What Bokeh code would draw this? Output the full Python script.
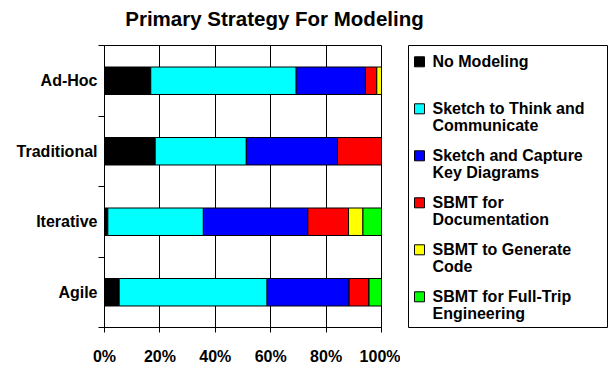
from bokeh.plotting import figure
from bokeh.models import (ColumnDataSource, Range1d, FixedTicker, PrintfTickFormatter, LinearAxis)
from bokeh.layouts import row, column
from bokeh.core.properties import value
from bokeh.embed import file_html
from bokeh.resources import INLINE

FONT = "Liberation Sans"

chart_title = "Primary Strategy For Modeling"
categories = ["Ad-Hoc", "Traditional", "Iterative", "Agile"]
no_modeling = [16.7, 18.3, 1.2, 5.3]
sketch_think = [52.5, 32.9, 34.5, 53.4]
sketch_capture = [25.0, 32.9, 37.7, 29.6]
sbmt_doc = [4.1, 15.9, 14.7, 7.2]
sbmt_gen = [1.7, 0.0, 5.2, 0.0]
sbmt_full = [0.0, 0.0, 6.7, 4.5]

series_keys = ["no_modeling", "sketch_think", "sketch_capture", "sbmt_doc", "sbmt_gen", "sbmt_full"]
series_values = [no_modeling, sketch_think, sketch_capture, sbmt_doc, sbmt_gen, sbmt_full]
legend_lines1 = ["No Modeling", "Sketch to Think and", "Sketch and Capture", "SBMT for", "SBMT to Generate", "SBMT for Full-Trip"]
legend_lines2 = ["", "Communicate", "Key Diagrams", "Documentation", "Code", "Engineering"]
colors = ["#000000", "#00FFFF", "#0000FF", "#FF0000", "#FFFF00", "#00FF00"]
x_ticks = [0, 20, 40, 60, 80, 100]

n_cat = len(categories)
centers = [n_cat - i - 0.5 for i in range(n_cat)]  # first category on top

data = {"cat": categories, "pos": centers}
for k, v in zip(series_keys, series_values):
    data[k] = v
source = ColumnDataSource(data)

W_TOTAL = 608
T = 36          # title strip height
H = 372 - T     # chart row height

# ---- title strip ----
tfig = figure(width=W_TOTAL, height=T, output_backend="svg", toolbar_location=None,
              x_range=Range1d(0, W_TOTAL), y_range=Range1d(0, T),
              min_border_left=0, min_border_right=0, min_border_top=0, min_border_bottom=0)
tfig.axis.visible = False
tfig.grid.visible = False
tfig.outline_line_color = None
tfig.text(x=[274], y=[18], text=[chart_title], text_font=value(FONT), text_font_size="20.5px",
          text_font_style="bold", text_color="black", text_align="center",
          text_baseline="alphabetic")

# ---- main chart ----
p = figure(width=400, height=H, output_backend="svg", toolbar_location=None,
           x_range=Range1d(0, 100), y_range=Range1d(0, n_cat),
           y_axis_location=None,
           min_border_left=104, min_border_right=19, min_border_top=41 - T, min_border_bottom=42)
p.hbar_stack(series_keys, y="pos", height=0.39, color=colors, line_color="black",
             line_width=1, source=source)

# boundary ticks (Excel style) next to the plot
bound_axis = LinearAxis(ticker=FixedTicker(ticks=list(range(n_cat + 1))),
                        major_label_overrides={i: "" for i in range(n_cat + 1)},
                        major_tick_in=0, major_tick_out=6, minor_tick_line_color=None,
                        axis_line_color="black", major_tick_line_color="black",
                        major_label_standoff=0, major_label_text_font_size="1px")
p.add_layout(bound_axis, "left")
# category labels centred on each bar
cat_axis = LinearAxis(ticker=FixedTicker(ticks=centers),
                      major_label_overrides={c: name for c, name in zip(centers, categories)},
                      axis_line_color=None, major_tick_line_color=None, minor_tick_line_color=None,
                      major_tick_in=0, major_tick_out=0, major_label_standoff=1,
                      major_label_text_font=FONT, major_label_text_font_size="16px",
                      major_label_text_font_style="bold", major_label_text_color="black")
p.add_layout(cat_axis, "left")

p.outline_line_color = "black"
p.outline_line_width = 1
p.ygrid.grid_line_color = None
p.xgrid.grid_line_color = "black"
p.xgrid.grid_line_width = 1
p.xgrid.ticker = FixedTicker(ticks=x_ticks)

p.xaxis.ticker = FixedTicker(ticks=x_ticks)
p.xaxis.formatter = PrintfTickFormatter(format="%d%%")
p.xaxis.major_tick_in = 0
p.xaxis.major_tick_out = 5
p.xaxis.minor_tick_line_color = None
p.xaxis.major_label_standoff = 15
p.xaxis.axis_line_color = "black"
p.xaxis.major_tick_line_color = "black"
p.xaxis.major_label_text_font = FONT
p.xaxis.major_label_text_font_size = "16px"
p.xaxis.major_label_text_font_style = "bold"
p.xaxis.major_label_text_color = "black"

# ---- legend panel ----
n = len(series_keys)
slot = 47
leg = figure(width=W_TOTAL - 400, height=H, output_backend="svg", toolbar_location=None,
             x_range=Range1d(0, 199), y_range=Range1d(282, 0),
             min_border_left=8, min_border_right=1, min_border_top=45 - T, min_border_bottom=45)
leg.xaxis.visible = False
leg.yaxis.visible = False
leg.grid.visible = False
leg.outline_line_color = "black"
leg.outline_line_width = 1
ys = [16.3 + i * slot for i in range(n)]
lsrc = ColumnDataSource(dict(x=[11] * n, y=ys, c=colors, tx=[24] * n,
                             ty1=[y - 0.5 for y in ys], ty2=[y + 17 for y in ys],
                             t1=legend_lines1, t2=legend_lines2))
leg.scatter(x="x", y="y", marker="square", size=10, fill_color="c", line_color="black", source=lsrc)
for col_t, col_y in (("t1", "ty1"), ("t2", "ty2")):
    leg.text(x="tx", y=col_y, text=col_t, source=lsrc, text_font=value(FONT),
             text_font_size="16px", text_font_style="bold", text_color="black",
             text_baseline="alphabetic", text_align="left")

layout = column(tfig, row(p, leg))
open("out.html", "w").write(file_html(layout, INLINE))
